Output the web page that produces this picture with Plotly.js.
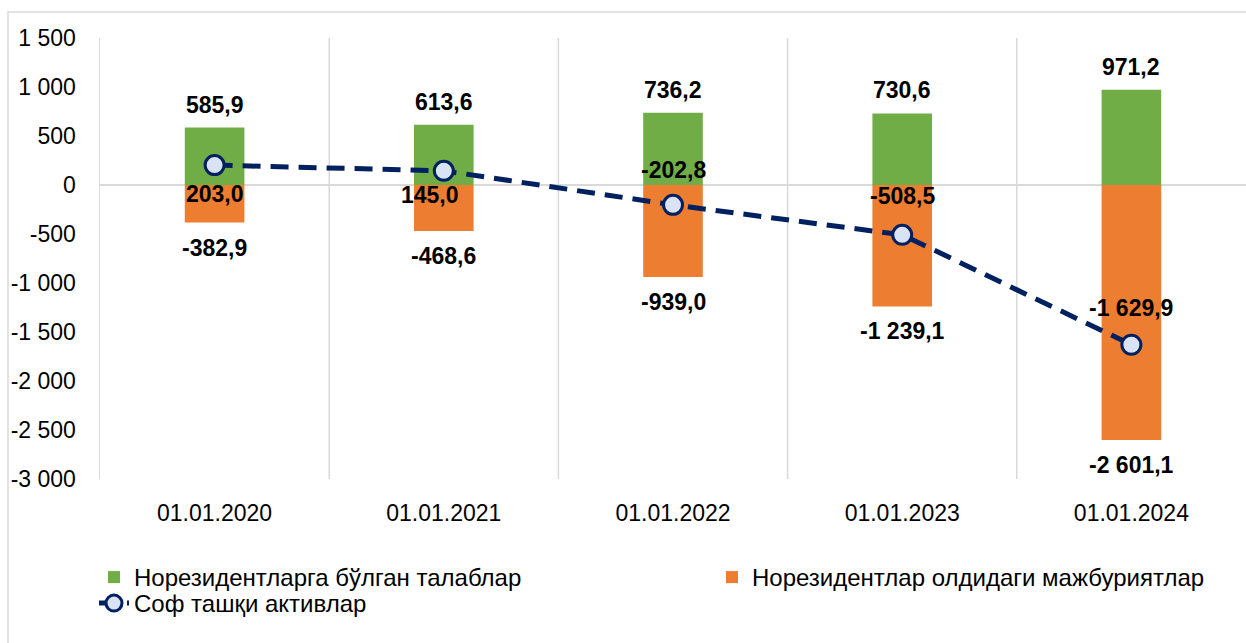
<!DOCTYPE html>
<html><head><meta charset="utf-8">
<script src="https://cdn.plot.ly/plotly-3.0.1.min.js"></script>
<style>html,body{margin:0;padding:0;background:#fff}#chart{width:1246px;height:643px}</style>
</head><body><div id="chart"></div>
<script>
const categories = ["01.01.2020","01.01.2021","01.01.2022","01.01.2023","01.01.2024"];
const claims = [585.9, 613.6, 736.2, 730.6, 971.2];
const liabilities = [-382.9, -468.6, -939.0, -1239.1, -2601.1];
const netAssets = [203.0, 145.0, -202.8, -508.5, -1629.9];
const yTickVals = [1500,1000,500,0,-500,-1000,-1500,-2000,-2500,-3000];
const seriesNames = ["Норезидентларга бўлган талаблар","Норезидентлар олдидаги мажбуриятлар","Соф ташқи активлар"];

function fmt(v){
  const neg = v < 0; const a = Math.abs(v);
  let s = a.toFixed(1).split('.');
  let ip = s[0].replace(/\B(?=(\d{3})+(?!\d))/g,' ');
  return (neg?'-':'') + ip + (s.length>1 ? ','+s[1] : '');
}
function fmtInt(v){
  const neg = v < 0; const a = Math.abs(v);
  return (neg?'-':'') + String(a).replace(/\B(?=(\d{3})+(?!\d))/g,' ');
}

const FONT = "Arial, 'Liberation Sans', sans-serif";
const traces = [
  {type:'bar', x:categories, y:claims, name:seriesNames[0], marker:{color:'#70ad47'}, width:0.26, hoverinfo:'skip', legend:'legend'},
  {type:'bar', x:categories, y:liabilities, name:seriesNames[1], marker:{color:'#ed7d31'}, width:0.26, hoverinfo:'skip', legend:'legend2'},
  {type:'scatter', mode:'lines+markers', x:categories, y:netAssets, name:seriesNames[2], legend:'legend3',
   line:{color:'#002060', width:5, dash:'18px,10px'},
   marker:{symbol:'circle', size:19, color:'#dae3f3', line:{color:'#002060', width:3}}, hoverinfo:'skip'}
];

const ann = [];
const lbl = {size:23, color:'#000', family:FONT};
categories.forEach((c,i)=>{
  ann.push({x:c, y:claims[i], xref:'x', yref:'y', text:'<b>'+fmt(claims[i])+'</b>', showarrow:false, yanchor:'middle', yshift:23, font:lbl});
  ann.push({x:c, y:liabilities[i], xref:'x', yref:'y', text:'<b>'+fmt(liabilities[i])+'</b>', showarrow:false, yanchor:'middle', yshift:-25, font:lbl});
});
const netShift = [[0,-29],[-14,-24],[0,35],[0,39],[0,37]];
categories.forEach((c,i)=>{
  ann.push({x:c, y:netAssets[i], xref:'x', yref:'y', text:'<b>'+fmt(netAssets[i])+'</b>', showarrow:false, yanchor:'middle', xshift:netShift[i][0], yshift:netShift[i][1], font:lbl});
});

const shapes = [];
for (let i=1;i<categories.length;i++){
  shapes.push({type:'line', xref:'x', yref:'paper', x0:i-0.5, x1:i-0.5, y0:0, y1:1, line:{color:'#d9d9d9', width:1.5}, layer:'below'});
}
shapes.push({type:'rect', xref:'paper', yref:'paper', x0:(8-100)/1146, x1:(1275-100)/1146, y0:(479-660)/441, y1:(479-12)/441, line:{color:'#d9d9d9', width:1.5}, layer:'below'});

const legFont = {size:24, family:FONT, color:'#000'};
const legBase = {orientation:'v', xref:'container', yref:'container', xanchor:'left', yanchor:'top', font:legFont, bgcolor:'rgba(0,0,0,0)'};
const layout = {
  width:1246, height:643,
  margin:{l:100, r:0, t:38, b:164, autoexpand:false},
  paper_bgcolor:'#fff', plot_bgcolor:'#fff',
  barmode:'relative',
  showlegend:true,
  font:{family:FONT, color:'#000'},
  xaxis:{type:'category', showgrid:false, zeroline:false, showline:false, ticks:'', tickfont:{size:23, family:FONT}, ticklabelstandoff:18, fixedrange:true},
  yaxis:{range:[-3000,1500], tickvals:yTickVals, ticktext:yTickVals.map(fmtInt), showgrid:false,
         zeroline:true, zerolinecolor:'#d9d9d9', zerolinewidth:2, showline:true, linecolor:'#d9d9d9', linewidth:1.5,
         ticks:'', tickfont:{size:23, family:FONT}, ticklabelstandoff:18, fixedrange:true},
  legend:Object.assign({}, legBase, {x:94/1246, y:1-555/643}),
  legend2:Object.assign({}, legBase, {x:712/1246, y:1-555/643}),
  legend3:Object.assign({}, legBase, {x:94/1246, y:1-581/643}),
  annotations:ann,
  shapes:shapes
};
Plotly.newPlot('chart', traces, layout, {displayModeBar:false, staticPlot:true});
</script></body></html>
